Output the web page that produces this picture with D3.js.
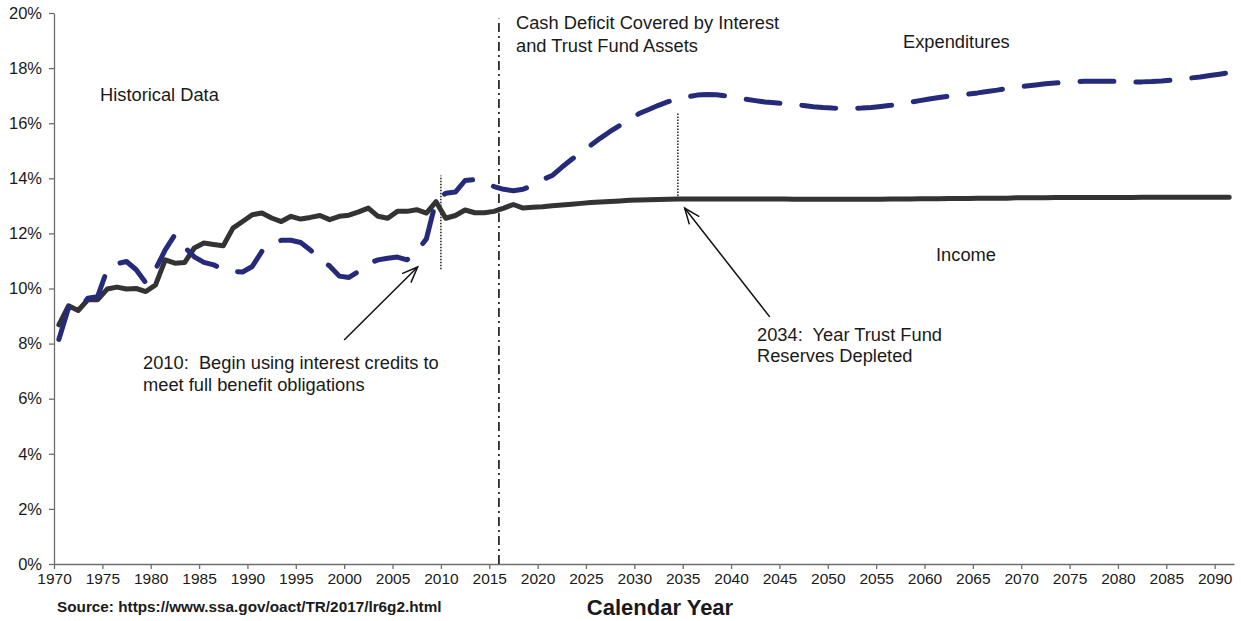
<!DOCTYPE html>
<html>
<head>
<meta charset="utf-8" />
<title>OASDI Income and Expenditures</title>
<style>
  body { margin: 0; background: #fff; }
  text { font-family: "Liberation Sans", Arial, sans-serif; fill: #1a1a1a; }
</style>
</head>
<body>
<script src="https://d3js.org/d3.v7.min.js"></script>
<script>

// one value per calendar year, 1970 .. 2091 (percent of taxable payroll)
var years = d3.range(1970, 2092);

var income = [
  8.68, 9.37, 9.20, 9.59, 9.59, 9.98, 10.05, 9.98, 10.00, 9.89,      // 1970-79
  10.13, 11.04, 10.92, 10.94, 11.47, 11.65, 11.60, 11.55, 12.19, 12.43, // 1980-89
  12.68, 12.74, 12.56, 12.43, 12.62, 12.52, 12.58, 12.65, 12.50, 12.62, // 1990-99
  12.66, 12.78, 12.92, 12.62, 12.55, 12.80, 12.80, 12.86, 12.74, 13.15, // 2000-09
  12.55, 12.65, 12.85, 12.75, 12.75, 12.80, 12.92, 13.05, 12.92, 12.95, // 2010-19
  12.97, 13.00, 13.03, 13.06, 13.09, 13.12, 13.14, 13.16, 13.18, 13.20, // 2020-29
  13.21, 13.22, 13.23, 13.24, 13.25, 13.25, 13.25, 13.25, 13.25, 13.25, // 2030-39
  13.25, 13.25, 13.25, 13.25, 13.25, 13.25, 13.24, 13.24, 13.24, 13.24, // 2040-49
  13.24, 13.24, 13.24, 13.24, 13.24, 13.24, 13.25, 13.25, 13.25, 13.26, // 2050-59
  13.26, 13.26, 13.27, 13.27, 13.27, 13.28, 13.28, 13.28, 13.28, 13.29, // 2060-69
  13.29, 13.29, 13.29, 13.30, 13.30, 13.30, 13.30, 13.30, 13.30, 13.30, // 2070-79
  13.30, 13.30, 13.31, 13.31, 13.31, 13.31, 13.31, 13.31, 13.31, 13.31, // 2080-89
  13.31, 13.31                                                          // 2090-91
];

var expenditures = [
  8.15, 9.30, 9.20, 9.65, 9.70, 10.68, 10.90, 10.98, 10.68, 10.20,     // 1970-79
  10.70, 11.40, 11.95, 11.50, 11.15, 10.95, 10.86, 10.68, 10.62, 10.60, // 1980-89
  10.80, 11.35, 11.60, 11.75, 11.75, 11.67, 11.40, 11.05, 10.82, 10.45, // 1990-99
  10.40, 10.62, 10.90, 11.04, 11.10, 11.14, 11.04, 11.35, 11.80, 13.20, // 2000-09
  13.46, 13.50, 13.92, 13.95, 13.85, 13.70, 13.60, 13.55, 13.60, 13.75, // 2010-19
  13.95, 14.10, 14.40, 14.68, 14.95, 15.20, 15.46, 15.70, 15.92, 16.15, // 2020-29
  16.35, 16.50, 16.65, 16.78, 16.88, 16.96, 17.02, 17.04, 17.03, 16.99, // 2030-39
  16.93, 16.87, 16.82, 16.77, 16.74, 16.71, 16.68, 16.64, 16.60, 16.57, // 2040-49
  16.55, 16.54, 16.54, 16.55, 16.57, 16.61, 16.65, 16.70, 16.76, 16.82, // 2050-59
  16.88, 16.93, 16.98, 17.02, 17.06, 17.10, 17.15, 17.20, 17.26, 17.31, // 2060-69
  17.35, 17.39, 17.43, 17.46, 17.49, 17.51, 17.52, 17.52, 17.52, 17.52, // 2070-79
  17.51, 17.50, 17.50, 17.51, 17.53, 17.56, 17.60, 17.64, 17.68, 17.73, // 2080-89
  17.78, 17.83                                                          // 2090-91
];

var xTicks = d3.range(1970, 2091, 5);
var yTicks = [0, 2, 4, 6, 8, 10, 12, 14, 16, 18, 20];

// reference lines: year, low %, high %
var refLines = [
  { year: 2010,   lo: 10.7, hi: 14.1, kind: "dot" },
  { year: 2016,   lo: 0,    hi: 19.8, kind: "dashdot" },
  { year: 2034.5, lo: 13.25, hi: 16.4, kind: "dot" }
];

// arrows: tail (year, %) -> tip (year, %)
var arrows = [
  { x1: 2000.0, y1: 8.13, x2: 2007.6, y2: 10.78 },
  { x1: 2044.0, y1: 8.97, x2: 2035.2, y2: 12.92 }
];

var width = 1241, height = 621;

var svg = d3.select("body").append("svg")
    .attr("width", width)
    .attr("height", height)
    .style("background", "#fff");

var x = d3.scaleLinear().domain([1970, 2092]).range([54, 1234]);
var y = d3.scaleLinear().domain([0, 20]).range([564, 13]);

// axes
var xAxis = d3.axisBottom(x)
    .tickValues(xTicks)
    .tickFormat(d3.format("d"))
    .tickSize(5)
    .tickSizeOuter(0);

var yAxis = d3.axisLeft(y)
    .tickValues(yTicks)
    .tickFormat(d => d + "%")
    .tickSize(5)
    .tickSizeOuter(0);

var gx = svg.append("g")
    .attr("transform", "translate(0," + y(0) + ")")
    .call(xAxis);
gx.selectAll("text")
    .attr("dy", null)
    .attr("y", 20)
    .style("font-size", "15.5px");

var gy = svg.append("g")
    .attr("transform", "translate(" + x(1970) + ",0)")
    .call(yAxis);
gy.selectAll("text")
    .attr("x", -12)
    .style("font-size", "16.5px");

svg.selectAll(".domain, .tick line")
    .attr("stroke", "#6e6e6e")
    .attr("stroke-width", 1.3);

// reference lines
svg.append("g").selectAll("line")
    .data(refLines)
    .join("line")
    .attr("x1", d => x(d.year))
    .attr("x2", d => x(d.year))
    .attr("y1", d => y(d.lo))
    .attr("y2", d => y(d.hi))
    .attr("stroke", "#111")
    .attr("stroke-width", d => d.kind == "dot" ? 1.4 : 1.6)
    .attr("stroke-dasharray", d => d.kind == "dot" ? "1.4,1.6" : "9,4,2,4");

// series
var line = d3.line()
    .x((d, i) => x(years[i] + 0.5))
    .y(d => y(d));

svg.append("path")
    .datum(income)
    .attr("d", line)
    .attr("fill", "none")
    .attr("stroke", "#333")
    .attr("stroke-width", 5)
    .attr("stroke-linejoin", "round")
    .attr("stroke-linecap", "round");

svg.append("path")
    .datum(expenditures)
    .attr("d", line)
    .attr("fill", "none")
    .attr("stroke", "#262a7a")
    .attr("stroke-width", 5)
    .attr("stroke-linejoin", "round")
    .attr("stroke-linecap", "round")
    .attr("stroke-dasharray", "34,22");

// arrows
var ag = svg.append("g")
    .attr("stroke", "#111")
    .attr("stroke-width", 1.5)
    .attr("fill", "none");

arrows.forEach(function(a) {
    var x1 = x(a.x1), y1 = y(a.y1), x2 = x(a.x2), y2 = y(a.y2);
    var ang = Math.atan2(y2 - y1, x2 - x1);
    var len = 17, spread = 0.38;
    ag.append("line")
      .attr("x1", x1).attr("y1", y1)
      .attr("x2", x2).attr("y2", y2);
    ag.append("path")
      .attr("d", "M" + (x2 - len * Math.cos(ang - spread)) + "," + (y2 - len * Math.sin(ang - spread)) +
                 "L" + x2 + "," + y2 +
                 "L" + (x2 - len * Math.cos(ang + spread)) + "," + (y2 - len * Math.sin(ang + spread)));
});

// labels
var labels = [
  { t: "Historical Data", x: 100, y: 101 },
  { t: "Cash Deficit Covered by Interest", x: 516, y: 29 },
  { t: "and Trust Fund Assets", x: 516, y: 52 },
  { t: "Expenditures", x: 903, y: 48 },
  { t: "Income", x: 936, y: 261 },
  { t: "2010:  Begin using interest credits to", x: 143, y: 369 },
  { t: "meet full benefit obligations", x: 143, y: 391 },
  { t: "2034:  Year Trust Fund", x: 757, y: 341 },
  { t: "Reserves Depleted", x: 757, y: 362 }
];

svg.append("g").selectAll("text")
    .data(labels)
    .join("text")
    .attr("x", d => d.x)
    .attr("y", d => d.y)
    .style("font-size", "18.3px")
    .style("white-space", "pre")
    .text(d => d.t);

svg.append("text")
    .attr("x", 57)
    .attr("y", 612)
    .style("font-size", "15.3px")
    .style("font-weight", "bold")
    .text("Source: https://www.ssa.gov/oact/TR/2017/lr6g2.html");

svg.append("text")
    .attr("x", 660)
    .attr("y", 615)
    .attr("text-anchor", "middle")
    .style("font-size", "22px")
    .style("font-weight", "bold")
    .text("Calendar Year");

</script>
</body>
</html>
